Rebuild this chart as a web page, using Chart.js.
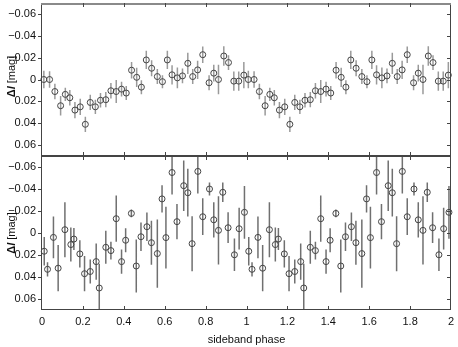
<!DOCTYPE html>
<html>
<head>
<meta charset="utf-8">
<script src="https://cdn.jsdelivr.net/npm/chart.js@4.4.1/dist/chart.umd.min.js"></script>
<style>
  html, body { margin: 0; padding: 0; background: #fff; }
  #wrap { position: relative; width: 458px; height: 347px; }
  .panel { position: absolute; left: 0; }
  #topChart { top: 0; }
  #botChart { top: 156px; }
</style>
</head>
<body>
<div id="wrap">
  <canvas id="topChart" class="panel" width="458" height="157"></canvas>
  <canvas id="botChart" class="panel" width="458" height="191"></canvas>
</div>
<script>
// one cycle of phase-folded data, the figure shows it twice (phase, phase + 1)
const topPhase = [0.009, 0.037, 0.063, 0.091, 0.114, 0.136, 0.161, 0.187, 0.212, 0.236,
                  0.261, 0.286, 0.312, 0.337, 0.363, 0.389, 0.412, 0.438, 0.463, 0.486,
                  0.510, 0.536, 0.564, 0.589, 0.613, 0.636, 0.662, 0.687, 0.713, 0.737,
                  0.761, 0.786, 0.817, 0.840, 0.863, 0.889, 0.912, 0.938, 0.962, 0.987];
const topMag = [0.000, 0.000, 0.011, 0.024, 0.0136, 0.0167, 0.028, 0.025, 0.041, 0.021,
                0.025, 0.019, 0.0185, 0.0103, 0.011, 0.0088, 0.0124, -0.0085, -0.002, 0.007,
                -0.0179, -0.0103, -0.0027, 0.002, -0.0179, -0.0043, -0.0015, -0.0033, -0.0148, -0.0027,
                -0.0088, -0.0227, 0.003, -0.0058, 0.000, -0.0215, -0.0155, 0.0015, 0.0015, -0.004];
const topErr = [0.008, 0.0075, 0.007, 0.009, 0.006, 0.007, 0.0075, 0.0075, 0.007, 0.007,
                0.0065, 0.0067, 0.007, 0.007, 0.0106, 0.0068, 0.0064, 0.0076, 0.0088, 0.0064,
                0.0083, 0.0073, 0.0068, 0.006, 0.0083, 0.0088, 0.0095, 0.0068, 0.0097, 0.0068,
                0.0083, 0.0076, 0.0068, 0.0076, 0.0136, 0.009, 0.0068, 0.0088, 0.0088, 0.012];

const botPhase = [0.011, 0.027, 0.056, 0.079, 0.112, 0.141, 0.156, 0.185, 0.208, 0.236,
                  0.265, 0.280, 0.312, 0.337, 0.363, 0.389, 0.409, 0.437, 0.461, 0.484,
                  0.513, 0.535, 0.564, 0.587, 0.606, 0.636, 0.660, 0.693, 0.713, 0.734,
                  0.762, 0.786, 0.819, 0.840, 0.863, 0.884, 0.910, 0.941, 0.964, 0.990];
const botMag = [0.0166, 0.033, 0.004, 0.032, -0.003, 0.0105, 0.0055, 0.019, 0.037, 0.035,
                0.026, 0.050, 0.013, 0.016, -0.013, 0.026, 0.0066, -0.0178, 0.030, 0.0034,
                -0.0057, 0.0088, 0.0187, -0.031, 0.0042, -0.055, -0.0103, -0.043, -0.0366, 0.0097,
                -0.056, -0.0148, -0.040, -0.012, -0.0024, -0.037, -0.0048, 0.0198, -0.0039, -0.0188];
const botErr = [0.013, 0.0065, 0.019, 0.021, 0.025, 0.0155, 0.010, 0.0124, 0.016, 0.011,
                0.0165, 0.022, 0.015, 0.008, 0.021, 0.011, 0.011, 0.0035, 0.024, 0.013,
                0.013, 0.020, 0.031, 0.0124, 0.028, 0.020, 0.016, 0.023, 0.0217, 0.025,
                0.020, 0.0167, 0.006, 0.016, 0.031, 0.0088, 0.014, 0.0148, 0.019, 0.024];

const xTicks = [0, 0.2, 0.4, 0.6, 0.8, 1, 1.2, 1.4, 1.6, 1.8, 2];
const yTicks = [-0.06, -0.04, -0.02, 0, 0.02, 0.04, 0.06];
const xTitle = 'sideband phase';

const FONT = '"Liberation Sans", Arial, Helvetica, sans-serif';
const INK = '#444';

function folded(phase, mag, err) {
    const pts = [];
    [0, 1].forEach(cycle => {
        phase.forEach((p, i) => pts.push({ x: p + cycle, y: mag[i], err: err[i] }));
    });
    return pts;
}

function fmtY(v) {
    if (v === 0) return '0';
    return (v < 0 ? '\u2212' : '') + Math.abs(v).toFixed(2);
}

// vertical error bars, drawn through the library scales
const errorBars = {
    id: 'errorBars',
    beforeDatasetsDraw(chart) {
        const { ctx, chartArea: a, scales: { x, y } } = chart;
        ctx.save();
        ctx.beginPath();
        ctx.rect(a.left, a.top, a.right - a.left, a.bottom - a.top);
        ctx.clip();
        chart.data.datasets.forEach(ds => {
            ctx.strokeStyle = ds.errColor;
            ctx.lineWidth = 1.5;
            ctx.beginPath();
            ds.data.forEach(p => {
                const px = x.getPixelForValue(p.x);
                ctx.moveTo(px, y.getPixelForValue(p.y - p.err));
                ctx.lineTo(px, y.getPixelForValue(p.y + p.err));
            });
            ctx.stroke();
        });
        ctx.restore();
    }
};

// box frame with inward ticks, outward ticks on the left, rotated y title
const frame = {
    id: 'frame',
    afterDraw(chart, args, opts) {
        const { ctx, chartArea: a, scales: { x, y } } = chart;
        const L = Math.round(a.left), R = Math.round(a.right);
        const T = Math.round(a.top), B = Math.round(a.bottom);
        ctx.save();
        ctx.fillStyle = INK;
        ctx.fillRect(L - 1, T, 1, B - T);      // left
        ctx.fillRect(R - 1, T, 1, B - T);      // right
        ctx.fillRect(L - 1, B - 1, R - L + 1, 1);  // bottom
        if (opts.heavyTop) {
            ctx.fillStyle = '#8a8a8a';
            ctx.fillRect(L - 1, T, R - L + 1, 2);
        } else {
            ctx.fillRect(L - 1, T, R - L + 1, 1);
        }
        ctx.fillStyle = INK;
        xTicks.slice(1, -1).forEach(v => {
            const px = Math.round(x.getPixelForValue(v));
            ctx.fillRect(px, T, 1, 4);
            ctx.fillRect(px, B - 4, 1, 4);
        });
        yTicks.forEach(v => {
            const py = Math.round(y.getPixelForValue(v));
            ctx.fillRect(R - 4, py, 4, 1);
            ctx.fillRect(L - 4, py, 4, 1);
        });

        // y title: ΔI [mag] with italic I
        const parts = [['bold 11px ' + FONT, '\u0394'], ['italic bold 11px ' + FONT, 'I'], ['11px ' + FONT, ' [mag]']];
        let total = 0;
        parts.forEach(([f, t]) => { ctx.font = f; total += ctx.measureText(t).width; });
        ctx.translate(12, (a.top + a.bottom) / 2 + opts.titleShift);
        ctx.rotate(-Math.PI / 2);
        ctx.fillStyle = '#111';
        ctx.textBaseline = 'middle';
        let cx = -total / 2;
        parts.forEach(([f, t]) => {
            ctx.font = f;
            ctx.fillText(t, cx, 0);
            cx += ctx.measureText(t).width;
        });
        ctx.restore();
    }
};

function noPad(s) {
    s.paddingTop = 0;
    s.paddingBottom = 0;
    s.paddingLeft = 0;
    s.paddingRight = 0;
}

function makeChart(id, phase, mag, err, errColor, isBottom) {
    const ctx = document.getElementById(id).getContext('2d');
    return new Chart(ctx, {
        type: 'scatter',
        data: {
            datasets: [{
                data: folded(phase, mag, err),
                errColor: errColor,
                pointStyle: 'circle',
                pointRadius: 3,
                pointBorderWidth: 1,
                borderColor: INK,
                backgroundColor: 'rgba(0,0,0,0)',
                clip: 6
            }]
        },
        options: {
            responsive: false,
            animation: false,
            layout: {
                autoPadding: false,
                padding: { top: isBottom ? 0 : 3, right: 7, bottom: isBottom ? 0 : 1, left: 0 }
            },
            scales: {
                x: {
                    type: 'linear',
                    min: 0,
                    max: 2,
                    display: isBottom,
                    grid: { display: false, drawTicks: false, tickLength: 0 },
                    border: { display: false },
                    afterBuildTicks: s => { s.ticks = xTicks.map(v => ({ value: v })); },
                    afterFit: s => { noPad(s); s.height = isBottom ? 37 : 0; },
                    ticks: {
                        autoSkip: false,
                        maxRotation: 0,
                        padding: 5,
                        color: '#111',
                        font: { family: FONT, size: 11 },
                        callback: v => Number.isInteger(v) ? String(v) : v.toFixed(1)
                    },
                    title: {
                        display: true,
                        text: xTitle,
                        color: '#111',
                        padding: { top: 0, bottom: 0 },
                        font: { family: FONT, size: 11 }
                    }
                },
                y: {
                    type: 'linear',
                    reverse: true,
                    min: -0.07,
                    max: 0.07,
                    grid: { display: false, drawTicks: false, tickLength: 0 },
                    border: { display: false },
                    afterBuildTicks: s => { s.ticks = yTicks.map(v => ({ value: v })); },
                    afterFit: s => { noPad(s); s.width = 42; },
                    ticks: {
                        padding: 6,
                        color: '#111',
                        font: { family: FONT, size: 11 },
                        callback: v => fmtY(v)
                    }
                }
            },
            plugins: {
                legend: { display: false },
                tooltip: { enabled: false },
                frame: { heavyTop: !isBottom, titleShift: isBottom ? 0 : -3 }
            }
        },
        plugins: [errorBars, frame]
    });
}

makeChart('topChart', topPhase, topMag, topErr, '#9a9a9a', false);
makeChart('botChart', botPhase, botMag, botErr, '#707070', true);
</script>
</body>
</html>
